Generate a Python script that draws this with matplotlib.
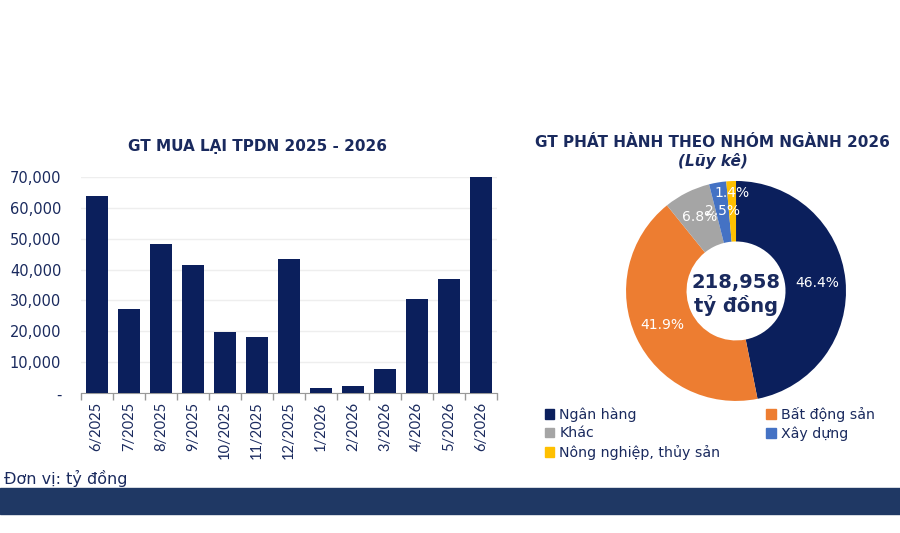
import matplotlib
matplotlib.use("Agg")
import matplotlib.pyplot as plt
import numpy as np
from matplotlib.patches import Rectangle, Patch

# ---- data ----
months = ["6/2025", "7/2025", "8/2025", "9/2025", "10/2025", "11/2025", "12/2025",
          "1/2026", "2/2026", "3/2026", "4/2026", "5/2026", "6/2026"]
buyback = [63800, 27100, 48100, 41400, 19700, 18200, 43400,
           1700, 2400, 8000, 30400, 37100, 70000]
yticks = [0, 10000, 20000, 30000, 40000, 50000, 60000, 70000]
ytick_labels = ["-", "10,000", "20,000", "30,000", "40,000", "50,000", "60,000", "70,000"]

sectors = ["Ngân hàng", "Bất động sản", "Khác", "Xây dựng", "Nông nghiệp, thủy sản"]
shares = [46.4, 41.9, 6.8, 2.5, 1.4]
total_label = "218,958\ntỷ đồng"

NAVY = "#0b1f5c"
TXT = "#1a2a5e"
pie_colors = ["#0b1f5c", "#ED7D31", "#A5A5A5", "#4472C4", "#FFC000"]

fig = plt.figure(figsize=(9, 5.33), dpi=100)
fig.patch.set_facecolor("white")

# ---- bar chart ----
ax = fig.add_axes([0.0897, 0.262, 0.4626, 0.4065])
x = np.arange(len(months))
ax.bar(x, buyback, width=0.68, color=NAVY, zorder=3)
ax.set_xlim(-0.5, len(months) - 0.5)
ax.set_ylim(0, 70000)
ax.set_yticks(yticks)
ax.set_yticklabels(ytick_labels, fontsize=10.5, color=TXT, family="DejaVu Sans")
ax.set_xticks(x)
ax.set_xticklabels(months, rotation=90, fontsize=10.5, color=TXT, family="Lato")
ax.tick_params(axis="x", which="major", length=0, pad=6)
ax.set_xticks(np.arange(-0.5, len(months), 1.0), minor=True)
ax.tick_params(axis="x", which="minor", length=5, color="#999999", width=1)
ax.tick_params(axis="y", length=0, pad=14)
for s in ["top", "right", "left"]:
    ax.spines[s].set_visible(False)
ax.spines["bottom"].set_color("#999999")
ax.grid(axis="y", color="#eeeeee", linewidth=1, zorder=0)
ax.set_axisbelow(True)
fig.text(0.286, 0.726, "GT MUA LẠI TPDN 2025 - 2026", ha="center", va="center",
         fontsize=11, fontweight="bold", color=TXT)

# ---- donut ----
pax = fig.add_axes([0.6956, 0.2477, 0.2444, 0.4128])
wedges, _ = pax.pie(shares, colors=pie_colors, startangle=90, counterclock=False,
                    wedgeprops=dict(width=0.55, edgecolor="none"))
pax.set_xlim(-1, 1)
pax.set_ylim(-1, 1)
pax.set_aspect("equal")
label_r = [0.74, 0.74, 0.75, 0.74, 0.89]
for w, v, r in zip(wedges, shares, label_r):
    ang = np.deg2rad((w.theta1 + w.theta2) / 2)
    pax.text(r * np.cos(ang), r * np.sin(ang), f"{v:.1f}%", ha="center", va="center",
             color="white", fontsize=10)
pax.text(0, -0.03, total_label, ha="center", va="center", fontsize=14,
         fontweight="bold", color=TXT, linespacing=1.15)

fig.text(0.792, 0.733, "GT PHÁT HÀNH THEO NHÓM NGÀNH 2026", ha="center", va="center",
         fontsize=11, fontweight="bold", color=TXT)
fig.text(0.792, 0.698, "(Lũy kê)", ha="center", va="center",
         fontsize=11, fontweight="bold", fontstyle="italic", color=TXT)

# legend (row-wise order)
handles = [Patch(color=c, label=l) for c, l in zip(pie_colors, sectors)]
order = [0, 2, 4, 1, 3]
fig.legend([handles[i] for i in order], [sectors[i] for i in order],
           loc="upper left", bbox_to_anchor=(0.605, 0.236), ncol=2, frameon=False,
           fontsize=10.2, handlelength=0.7, handleheight=0.7, handletextpad=0.35,
           columnspacing=3.2, labelspacing=0.3, labelcolor=TXT, borderaxespad=0,
           borderpad=0)

# footer
fig.text(0.004, 0.103, "Đơn vị: tỷ đồng", ha="left", va="center", fontsize=11.5, color=TXT)
fig.patches.append(Rectangle((0, 1 - 514 / 533), 1, 26 / 533, transform=fig.transFigure,
                             color="#1F3864", zorder=0))

fig.savefig("out.png", dpi=100)
